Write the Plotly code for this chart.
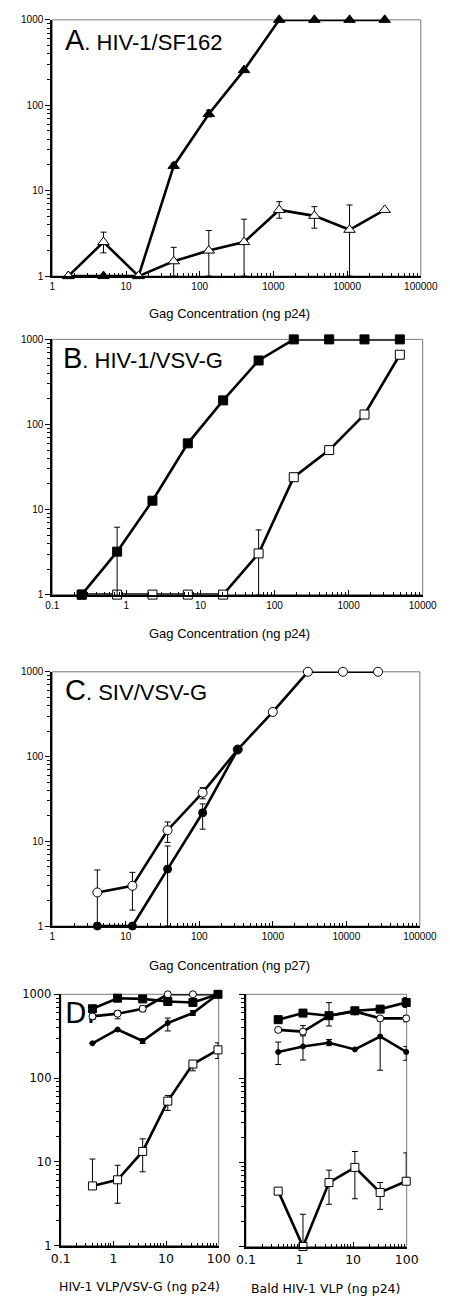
import plotly.graph_objects as go

W, H = 450, 1304

# ---------------- Data ----------------
# Panel A: HIV-1/SF162
xA = [1.65, 4.95, 14.8, 44.4, 133, 400, 1200, 3600, 10800, 32400]
A_filled = [1, 1, 1, 19.5, 79, 258, 1000, 1000, 1000, 1000]
A_filled_hi = [1, 1, 1, 21, 88, 272, 1000, 1000, 1000, 1000]
A_filled_lo = [1, 1, 1, 18.3, 73, 246, 1000, 1000, 1000, 1000]
A_open = [1, 2.5, 1, 1.49, 1.99, 2.5, 5.95, 5.07, 3.48, 5.95]
A_open_hi = [1, 3.27, 1, 2.17, 3.42, 4.63, 7.43, 6.5, 6.8, 5.95]
A_open_lo = [1, 1.87, 1, 1, 1, 1, 4.76, 3.64, 1, 5.95]

# Panel B: HIV-1/VSV-G
xB = [0.25, 0.75, 2.25, 6.75, 20.25, 61, 182, 547, 1640, 4920]
B_filled = [1, 3.2, 12.7, 60, 192, 565, 1000, 1000, 1000, 1000]
B_filled_hi = [1, 6.2, 12.7, 60, 192, 565, 1000, 1000, 1000, 1000]
B_filled_lo = [1, 1, 12.7, 60, 192, 565, 1000, 1000, 1000, 1000]
B_open = [1, 1, 1, 1, 1, 3.05, 24, 50, 131, 660]
B_open_hi = [1, 1, 1, 1, 1, 5.76, 24, 50, 131, 660]
B_open_lo = [1, 1, 1, 1, 1, 1, 24, 50, 131, 660]

# Panel C: SIV/VSV-G
xC = [4.1, 12.3, 37, 111, 333, 1000, 3000, 9000, 27000]
C_open = [2.49, 2.98, 13.5, 37.5, 121, 336, 1000, 1000, 1000]
C_open_hi = [4.58, 4.3, 16.9, 42.9, 121, 336, 1000, 1000, 1000]
C_open_lo = [1, 1.54, 9.7, 31.7, 121, 336, 1000, 1000, 1000]
xC_f = [4.1, 12.3, 37, 111, 333]
C_filled = [1, 1, 4.7, 21.7, 121]
C_filled_hi = [1, 1, 8.8, 27.6, 121]
C_filled_lo = [1, 1, 1, 13.9, 121]

# Panel D (left: HIV-1 VLP/VSV-G, right: Bald HIV-1 VLP)
xD = [0.4, 1.2, 3.6, 10.8, 32.4, 97]
DL_sq_f = [672, 898, 881, 820, 798, 1000]
DL_sq_f_hi = [672, 960, 960, 880, 798, 1000]
DL_sq_f_lo = [672, 820, 820, 760, 798, 1000]
DL_ci_o = [545, 587, 672, 1000, 1000, 1000]
DL_ci_o_hi = [580, 640, 720, 1000, 1000, 1000]
DL_ci_o_lo = [500, 510, 620, 1000, 1000, 1000]
DL_dot = [260, 380, 277, 455, 597, 1000]
DL_dot_hi = [260, 380, 295, 520, 640, 1000]
DL_dot_lo = [260, 380, 258, 365, 560, 1000]
DL_sq_o = [5.15, 6.1, 13.3, 53, 147, 217]
DL_sq_o_hi = [10.8, 9.1, 18.8, 62, 161, 263]
DL_sq_o_lo = [5.15, 3.2, 7.6, 41, 122, 171]

xDR = [0.4, 1.16, 3.55, 10.8, 32, 98]
DR_sq_f = [499, 598, 556, 637, 666, 798]
DR_sq_f_hi = [499, 598, 556, 637, 700, 914]
DR_sq_f_lo = [499, 598, 556, 637, 620, 697]
DR_ci_o = [377, 360, 556, 625, 517, 517]
DR_ci_o_hi = [395, 424, 796, 625, 540, 560]
DR_ci_o_lo = [355, 330, 420, 625, 480, 470]
DR_dot = [206, 240, 265, 221, 315, 206]
DR_dot_hi = [270, 320, 290, 221, 508, 240]
DR_dot_lo = [146, 165, 245, 221, 125, 164]
DR_sq_o = [4.56, 1, 5.76, 8.73, 4.4, 5.98]
DR_sq_o_hi = [4.9, 2.42, 8.1, 13.5, 5.77, 13]
DR_sq_o_lo = [4.2, 1, 3.18, 3.7, 2.77, 5.98]

# tick labels
y_ticks = [1, 10, 100, 1000]
y_ticktext = ["1", "10", "100", "1000"]
xA_ticks = [1, 10, 100, 1000, 10000, 100000]
xA_ticktext = ["1", "10", "100", "1000", "10000", "100000"]
xB_ticks = [0.1, 1, 10, 100, 1000, 10000]
xB_ticktext = ["0.1", "1", "10", "100", "1000", "10000"]
xD_ticks = [0.1, 1, 10, 100]
xD_ticktext = ["0.1", "1", "10", "100"]

# ---------------- Figure ----------------
fig = go.Figure()

def px_dom_x(a, b):
    return [a / W, b / W]

def px_dom_y(top, bottom):
    return [1 - bottom / H, 1 - top / H]

def add_series(axn, x, y, hi, lo, symbol, filled, size, errw=3):
    xa = "x" if axn == 1 else f"x{axn}"
    ya = "y" if axn == 1 else f"y{axn}"
    fig.add_trace(go.Scatter(
        x=x, y=y, xaxis=xa, yaxis=ya, mode="lines+markers",
        line=dict(color="black", width=2.6),
        marker=dict(symbol=symbol, size=size,
                    color="black" if filled else "white",
                    line=dict(color="black", width=1)),
        error_y=dict(type="data", symmetric=False,
                     array=[h - v for h, v in zip(hi, y)],
                     arrayminus=[v - l for v, l in zip(y, lo)],
                     color="black", thickness=1, width=errw),
        cliponaxis=False, showlegend=False, hoverinfo="skip"))

# A
add_series(1, xA, A_filled, A_filled_hi, A_filled_lo, "triangle-up", True, 10)
add_series(1, xA, A_open, A_open_hi, A_open_lo, "triangle-up", False, 10)
# B
add_series(2, xB, B_open, B_open_hi, B_open_lo, "square", False, 9)
add_series(2, xB, B_filled, B_filled_hi, B_filled_lo, "square", True, 9)
# C
add_series(3, xC, C_open, C_open_hi, C_open_lo, "circle", False, 9)
add_series(3, xC_f, C_filled, C_filled_hi, C_filled_lo, "circle", True, 8)
# D left
add_series(4, xD, DL_sq_o, DL_sq_o_hi, DL_sq_o_lo, "square", False, 8)
add_series(4, xD, DL_dot, DL_dot_hi, DL_dot_lo, "circle", True, 5)
add_series(4, xD, DL_ci_o, DL_ci_o_hi, DL_ci_o_lo, "circle", False, 7)
add_series(4, xD, DL_sq_f, DL_sq_f_hi, DL_sq_f_lo, "square", True, 8)
# D right
add_series(5, xDR, DR_sq_o, DR_sq_o_hi, DR_sq_o_lo, "square", False, 8)
add_series(5, xDR, DR_dot, DR_dot_hi, DR_dot_lo, "circle", True, 5)
add_series(5, xDR, DR_ci_o, DR_ci_o_hi, DR_ci_o_lo, "circle", False, 7)
add_series(5, xDR, DR_sq_f, DR_sq_f_hi, DR_sq_f_lo, "square", True, 8)

ARIAL = "Liberation Sans, Arial, sans-serif"
VERD = "DejaVu Sans, Verdana, sans-serif"

boxes = {
    1: dict(x=(45, 437), y=(13, 272), xr=[0, 5], xt=(xA_ticks, xA_ticktext), font=ARIAL, fs=10, xfs=10, labels=True),
    2: dict(x=(45, 439), y=(336, 594), xr=[-1, 4], xt=(xB_ticks, xB_ticktext), font=ARIAL, fs=10, xfs=10, labels=True),
    3: dict(x=(45, 436), y=(672, 929), xr=[0, 5], xt=(xA_ticks, xA_ticktext), font=ARIAL, fs=10, xfs=10, labels=True),
    4: dict(x=(54, 222), y=(998, 1252), xr=[-1, 2], xt=(xD_ticks, xD_ticktext), font=VERD, fs=11.5, xfs=12.5, labels=True),
    5: dict(x=(251, 422), y=(998, 1253), xr=[-1, 2], xt=(xD_ticks, xD_ticktext), font=VERD, fs=11.5, xfs=12.5, labels=False),
}

layout = {}
shapes = []
for n, b in boxes.items():
    xk = "xaxis" if n == 1 else f"xaxis{n}"
    yk = "yaxis" if n == 1 else f"yaxis{n}"
    yid = "y" if n == 1 else f"y{n}"
    xid = "x" if n == 1 else f"x{n}"
    layout[xk] = dict(
        type="log", range=b["xr"], domain=px_dom_x(*b["x"]), anchor=yid,
        tickmode="array", tickvals=b["xt"][0], ticktext=b["xt"][1],
        showgrid=False, zeroline=False,
        showline=True, linecolor="black", linewidth=2,
        ticks="inside", ticklen=5, tickcolor="black", tickwidth=1,
        minor=dict(ticks="inside", ticklen=3, tickcolor="black", dtick="D1",
                   tickmode="linear", showgrid=False),
        tickfont=dict(family=b["font"], size=b["xfs"], color="black"),
        fixedrange=True)
    layout[yk] = dict(
        type="log", range=[0, 3], domain=px_dom_y(*b["y"]), anchor=xid,
        tickmode="array", tickvals=y_ticks, ticktext=y_ticktext,
        showgrid=False, zeroline=False,
        showline=True, linecolor="black", linewidth=2,
        ticks="outside", ticklen=5, tickcolor="black", tickwidth=1,
        minor=dict(ticks="outside", ticklen=3, tickcolor="black", dtick="D1",
                   tickmode="linear", showgrid=False),
        showticklabels=b["labels"],
        tickfont=dict(family=b["font"], size=b["fs"], color="black"),
        fixedrange=True)
    shapes.append(dict(type="rect", xref=f"{xid} domain", yref=f"{yid} domain",
                       x0=0, x1=1, y0=0, y1=1, line=dict(color="#7a7a7a", width=1),
                       layer="below"))

def ann(text, xpx, ypx, font, size, xanchor="center", yanchor="middle"):
    return dict(text=text, x=xpx / W, y=1 - ypx / H, xref="paper", yref="paper",
                showarrow=False, xanchor=xanchor, yanchor=yanchor,
                font=dict(family=font, size=size, color="black"))

annotations = [
    ann("Gag Concentration (ng p24)", 233, 310, ARIAL, 13),
    ann("Gag Concentration (ng p24)", 234, 633, ARIAL, 13),
    ann("Gag Concentration (ng p27)", 233, 969, ARIAL, 13),
    ann("HIV-1 VLP/VSV-G (ng p24)", 138, 1293, VERD, 12.5),
    ann("Bald HIV-1 VLP (ng p24)", 336, 1295, VERD, 12.5),
    ann("<span style='font-size:29px'>A</span>. HIV-1/SF162", 56, 33, ARIAL, 22, xanchor="left"),
    ann("<span style='font-size:29px'>B</span>. HIV-1/VSV-G", 54, 355, ARIAL, 22, xanchor="left"),
    ann("<span style='font-size:29px'>C</span>. SIV/VSV-G", 56, 690, ARIAL, 22, xanchor="left"),
    ann("D.", 56, 1017, VERD, 28, xanchor="left"),
]

fig.update_layout(
    width=W, height=H, margin=dict(l=0, r=0, t=0, b=0),
    paper_bgcolor="white", plot_bgcolor="white",
    shapes=shapes, annotations=annotations, showlegend=False,
    **layout)

fig.write_html("out.html", config={"displayModeBar": False, "staticPlot": True},
               post_script="document.body.style.margin='0';")
